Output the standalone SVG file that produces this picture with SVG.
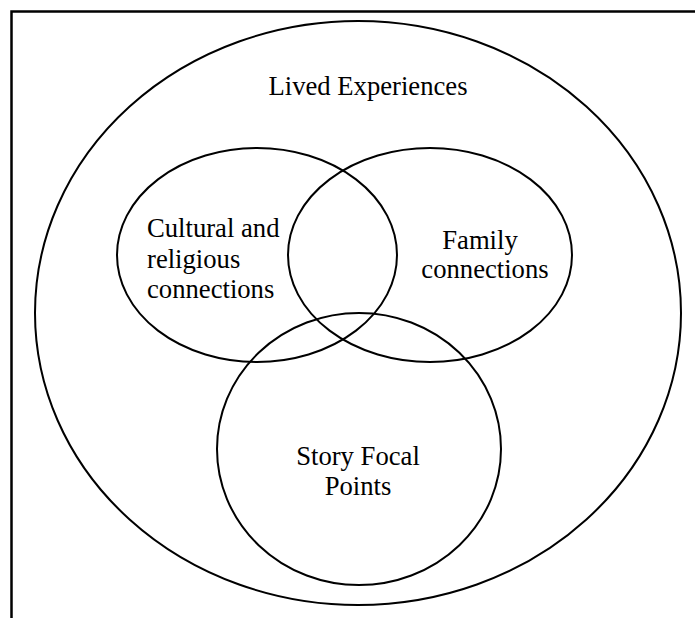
<svg xmlns="http://www.w3.org/2000/svg" width="695" height="618" viewBox="0 0 695 618">
  <style>
    .ring { fill: none; stroke: #000; stroke-width: 2; }
    .frame { fill: none; stroke: #000; stroke-width: 2.5; }
    .label { font-family: "Liberation Serif", "Times New Roman", serif; font-size: 26.67px; fill: #000; }
    .mid { text-anchor: middle; }
  </style>
  <rect width="695" height="618" fill="#fff"/>
  <!-- page frame: top and left rules only -->
  <path class="frame" d="M11.5 618 V11.5 H695"/>

  <g id="lived-experiences">
    <ellipse class="ring" cx="358" cy="313" rx="323" ry="292"/>
    <text class="label mid" x="368" y="95">Lived Experiences</text>
  </g>

  <g id="cultural-religious">
    <ellipse class="ring" cx="257" cy="255" rx="140" ry="107"/>
    <text class="label" x="147" y="237">Cultural and</text>
    <text class="label" x="147" y="268">religious</text>
    <text class="label" x="147" y="298">connections</text>
  </g>

  <g id="family">
    <ellipse class="ring" cx="430" cy="255" rx="142" ry="107"/>
    <text class="label mid" x="480" y="249">Family</text>
    <text class="label mid" x="485" y="278">connections</text>
  </g>

  <g id="story-focal-points">
    <ellipse class="ring" cx="359" cy="449" rx="142" ry="136"/>
    <text class="label mid" x="358" y="465">Story Focal</text>
    <text class="label mid" x="358" y="495">Points</text>
  </g>

  <g id="connectors"/>
</svg>
